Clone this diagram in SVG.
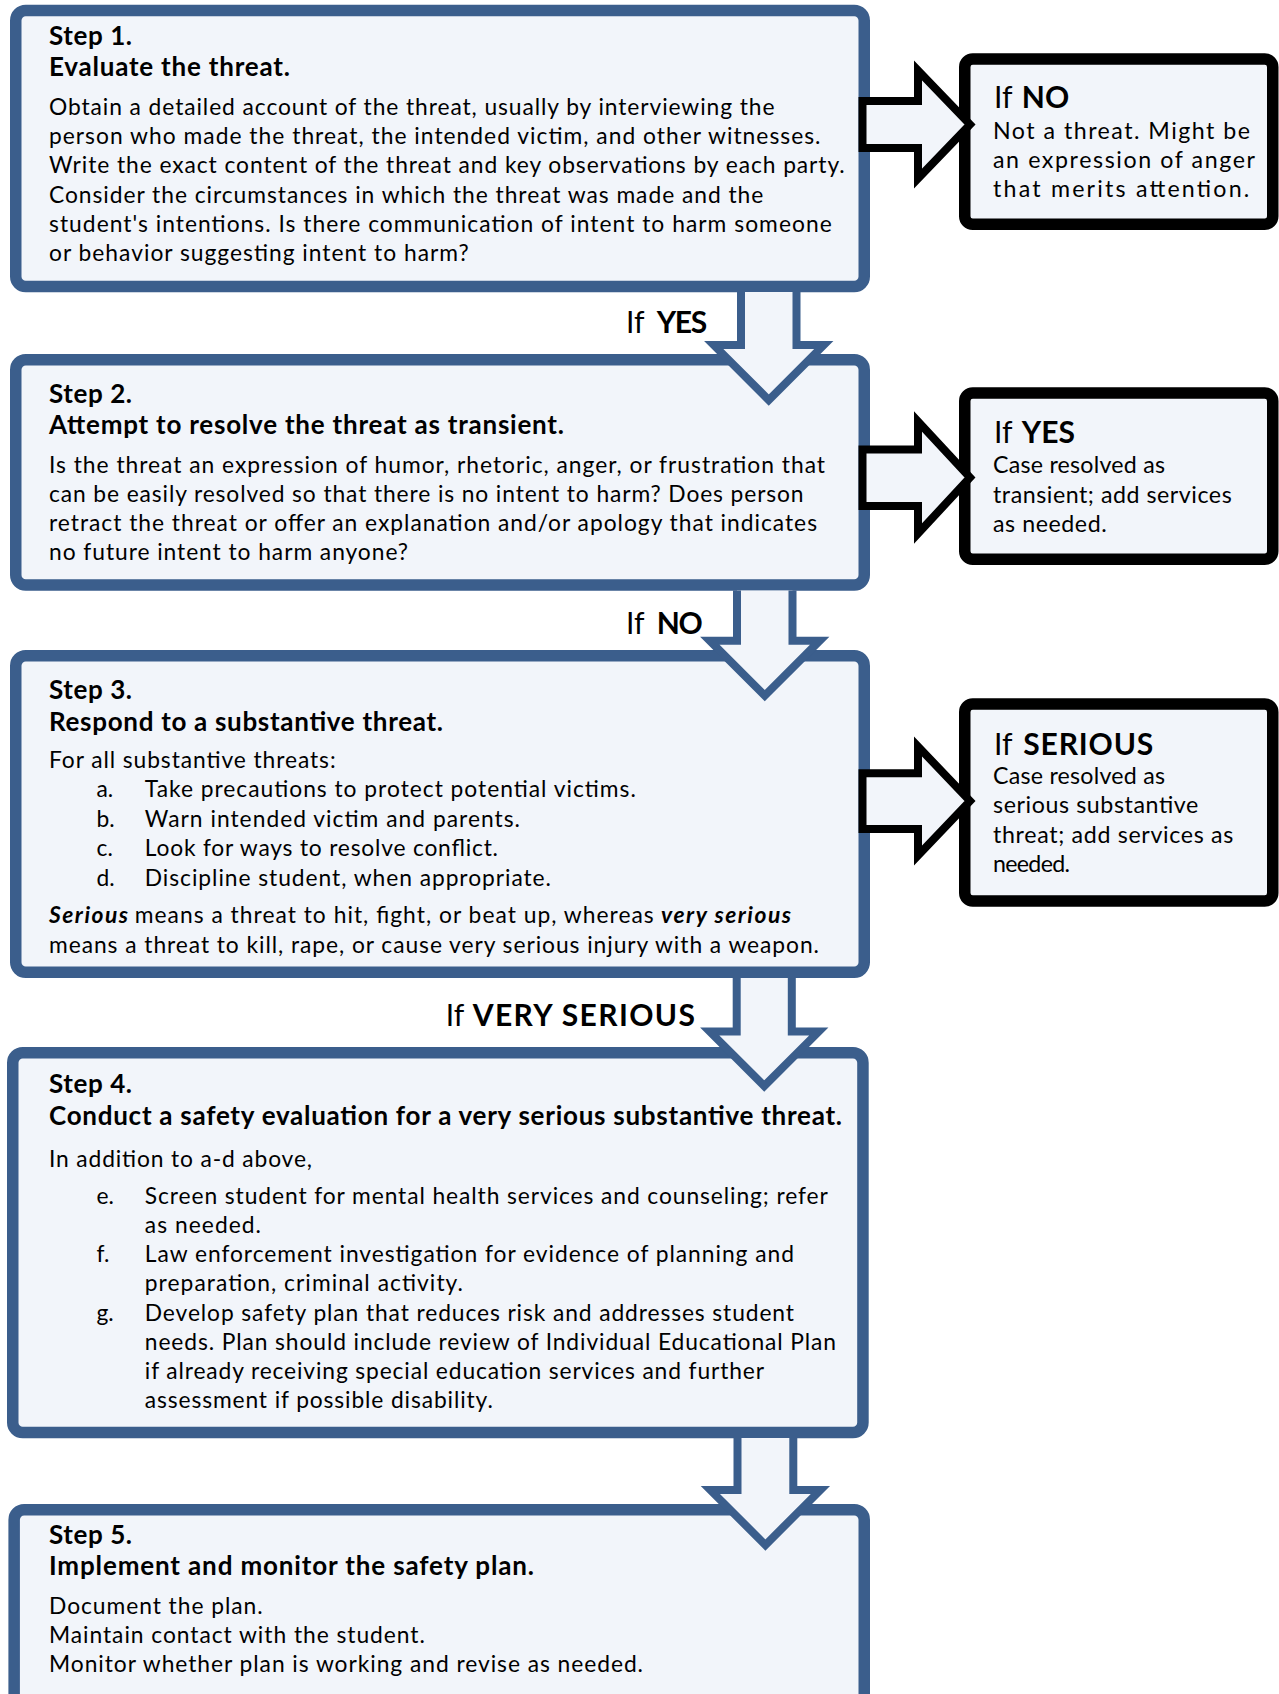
<svg xmlns="http://www.w3.org/2000/svg" width="1279" height="1694" viewBox="0 0 1279 1694">
<style>
.box{fill:#F2F5FA;stroke:#3B5E8C;stroke-width:11.5}
.obox{fill:#F2F5FA;stroke:#000;stroke-width:11.5}
.barrow{fill:#F2F5FA;stroke:#3B5E8C;stroke-width:8;stroke-linejoin:miter;stroke-miterlimit:10}
.karrow{fill:#F2F5FA;stroke:#000;stroke-width:8;stroke-linejoin:miter;stroke-miterlimit:10}
text{font-family:Lato,"Noto Sans",sans-serif;fill:#000}
.h{font-size:26px;font-weight:bold}
.b{font-size:22.8px}
.r{font-size:23.2px}
.l{font-size:30px}
.lb{font-size:30px;font-weight:bold}
.bi{font-size:22.8px;font-weight:bold;font-style:italic}
</style>
<rect width="1279" height="1694" fill="#fff"/>
<g id="step1">
<rect class="box" x="15.75" y="10.5" width="848.5" height="276" rx="10"/>
<text class="h" x="49" y="45" textLength="83">Step 1.</text>
<text class="h" x="49" y="76" textLength="241">Evaluate the threat.</text>
<text class="b" x="49" y="115" textLength="725.5">Obtain a detailed account of the threat, usually by interviewing the</text>
<text class="b" x="49" y="144.2" textLength="771.5">person who made the threat, the intended victim, and other witnesses.</text>
<text class="b" x="49" y="173.4" textLength="795.7">Write the exact content of the threat and key observations by each party.</text>
<text class="b" x="49" y="202.6" textLength="714.3">Consider the circumstances in which the threat was made and the</text>
<text class="b" x="49" y="231.8" textLength="782.7">student's intentions. Is there communication of intent to harm someone</text>
<text class="b" x="49" y="261" textLength="419.7">or behavior suggesting intent to harm?</text>
</g>
<g id="step2">
<rect class="box" x="15.75" y="359.75" width="848.5" height="225.25" rx="10"/>
<text class="h" x="49" y="402.5" textLength="83">Step 2.</text>
<text class="h" x="49" y="434" textLength="515">Attempt to resolve the threat as transient.</text>
<text class="b" x="49" y="473.3" textLength="776">Is the threat an expression of humor, rhetoric, anger, or frustration that</text>
<text class="b" x="49" y="502.3" textLength="754.6">can be easily resolved so that there is no intent to harm? Does person</text>
<text class="b" x="49" y="531.3" textLength="768">retract the threat or offer an explanation and/or apology that indicates</text>
<text class="b" x="49" y="560.3" textLength="359">no future intent to harm anyone?</text>
</g>
<g id="step3">
<rect class="box" x="15.75" y="655.75" width="848.5" height="316.5" rx="10"/>
<text class="h" x="49" y="699.3" textLength="83">Step 3.</text>
<text class="h" x="49" y="730.7" textLength="394">Respond to a substantive threat.</text>
<text class="b" x="49" y="768.3" textLength="286.6">For all substantive threats:</text>
<text class="b" x="96.5" y="797">a.</text>
<text class="b" x="144.8" y="797" textLength="491">Take precautions to protect potential victims.</text>
<text class="b" x="96.5" y="826.5">b.</text>
<text class="b" x="144.8" y="826.5" textLength="375.2">Warn intended victim and parents.</text>
<text class="b" x="96.5" y="856">c.</text>
<text class="b" x="144.8" y="856" textLength="353.2">Look for ways to resolve conflict.</text>
<text class="b" x="96.5" y="885.5">d.</text>
<text class="b" x="144.8" y="885.5" textLength="406.2">Discipline student, when appropriate.</text>
<text class="bi" x="49" y="923.3" textLength="79">Serious</text>
<text class="b" x="134.7" y="923.3" textLength="519">means a threat to hit, fight, or beat up, whereas</text>
<text class="bi" x="661" y="923.3" textLength="130">very serious</text>
<text class="b" x="49" y="952.7" textLength="770">means a threat to kill, rape, or cause very serious injury with a weapon.</text>
</g>
<g id="step4">
<rect class="box" x="12.75" y="1052.75" width="850.2" height="379.75" rx="10"/>
<text class="h" x="49" y="1093.3" textLength="83">Step 4.</text>
<text class="h" x="49" y="1125" textLength="793">Conduct a safety evaluation for a very serious substantive threat.</text>
<text class="b" x="49" y="1166.7" textLength="263">In addition to a-d above,</text>
<text class="b" x="96.5" y="1204.3">e.</text>
<text class="b" x="144.8" y="1204.3" textLength="683">Screen student for mental health services and counseling; refer</text>
<text class="b" x="144.8" y="1233.3" textLength="116.2">as needed.</text>
<text class="b" x="96.5" y="1261.7">f.</text>
<text class="b" x="144.8" y="1261.7" textLength="649.2">Law enforcement investigation for evidence of planning and</text>
<text class="b" x="144.8" y="1290.7" textLength="318.2">preparation, criminal activity.</text>
<text class="b" x="96.5" y="1321">g.</text>
<text class="b" x="144.8" y="1321" textLength="649.2">Develop safety plan that reduces risk and addresses student</text>
<text class="b" x="144.8" y="1350" textLength="691.2">needs. Plan should include review of Individual Educational Plan</text>
<text class="b" x="144.8" y="1379.3" textLength="619.2">if already receiving special education services and further</text>
<text class="b" x="144.8" y="1408.3" textLength="348">assessment if possible disability.</text>
</g>
<g id="step5">
<rect class="box" x="14.15" y="1509.75" width="850.1" height="300" rx="10"/>
<text class="h" x="49" y="1544.3" textLength="83">Step 5.</text>
<text class="h" x="49" y="1575" textLength="485">Implement and monitor the safety plan.</text>
<text class="b" x="49" y="1614" textLength="213.6">Document the plan.</text>
<text class="b" x="49" y="1642.7" textLength="375.8">Maintain contact with the student.</text>
<text class="b" x="49" y="1671.7" textLength="594">Monitor whether plan is working and revise as needed.</text>
</g>
<g id="outcome-no">
<rect class="obox" x="964.75" y="59" width="308" height="165.25" rx="8"/>
<text class="l" x="994" y="108.3">If</text>
<text class="lb" x="1021.7" y="108.3" textLength="47.6">NO</text>
<text class="r" x="993" y="139.3" textLength="257">Not a threat. Might be</text>
<text class="r" x="993" y="168" textLength="262">an expression of anger</text>
<text class="r" x="993" y="196.8" textLength="256.3">that merits attention.</text>
</g>
<g id="outcome-yes">
<rect class="obox" x="964.75" y="393" width="308" height="166.25" rx="8"/>
<text class="l" x="994" y="442.7">If</text>
<text class="lb" x="1021.7" y="442.7" textLength="53.3">YES</text>
<text class="r" x="993" y="473.3" textLength="172">Case resolved as</text>
<text class="r" x="993" y="502.7" textLength="238.7">transient; add services</text>
<text class="r" x="993" y="531.7" textLength="113.7">as needed.</text>
</g>
<g id="outcome-serious">
<rect class="obox" x="964.75" y="704" width="308" height="197" rx="8"/>
<text class="l" x="994" y="755">If</text>
<text class="lb" x="1023.3" y="755" textLength="130">SERIOUS</text>
<text class="r" x="993" y="784" textLength="172">Case resolved as</text>
<text class="r" x="993" y="813.3" textLength="205.3">serious substantive</text>
<text class="r" x="993" y="842.7" textLength="240.3">threat; add services as</text>
<text class="r" x="993" y="871.7" textLength="77">needed.</text>
</g>
<g id="connectors">
<path class="barrow" d="M741,292 L741,345 L713.75,345 L768.75,400 L823.75,345 L796.5,345 L796.5,292"/>
<path class="barrow" d="M737,590.5 L737,640.7 L709.75,640.7 L764.75,695.7 L819.75,640.7 L792.5,640.7 L792.5,590.5"/>
<path class="barrow" d="M736.7,978 L736.7,1031.5 L709.75,1031.5 L764.25,1086 L818.75,1031.5 L791.8,1031.5 L791.8,978"/>
<path class="barrow" d="M737.5,1438 L737.5,1490 L710.4,1490 L765.4,1545 L820.4,1490 L793.3,1490 L793.3,1438"/>
<polygon class="karrow" points="862.5,101 918,101 918,70.5 970,124.5 918,178.5 918,148 862.5,148"/>
<polygon class="karrow" points="862.5,449.5 918,449.5 918,421.5 970,477.5 918,533.5 918,506 862.5,506"/>
<polygon class="karrow" points="862.5,773.3 918,773.3 918,746.5 970,801 918,855.5 918,829 862.5,829"/>
<text class="l" x="626" y="333.3">If</text>
<text class="lb" x="656.7" y="333.3" textLength="50.6">YES</text>
<text class="l" x="626" y="634">If</text>
<text class="lb" x="656.7" y="634" textLength="46">NO</text>
<text class="l" x="445.7" y="1026">If</text>
<text class="lb" x="472.7" y="1026" textLength="222.3">VERY SERIOUS</text>
</g>
</svg>
